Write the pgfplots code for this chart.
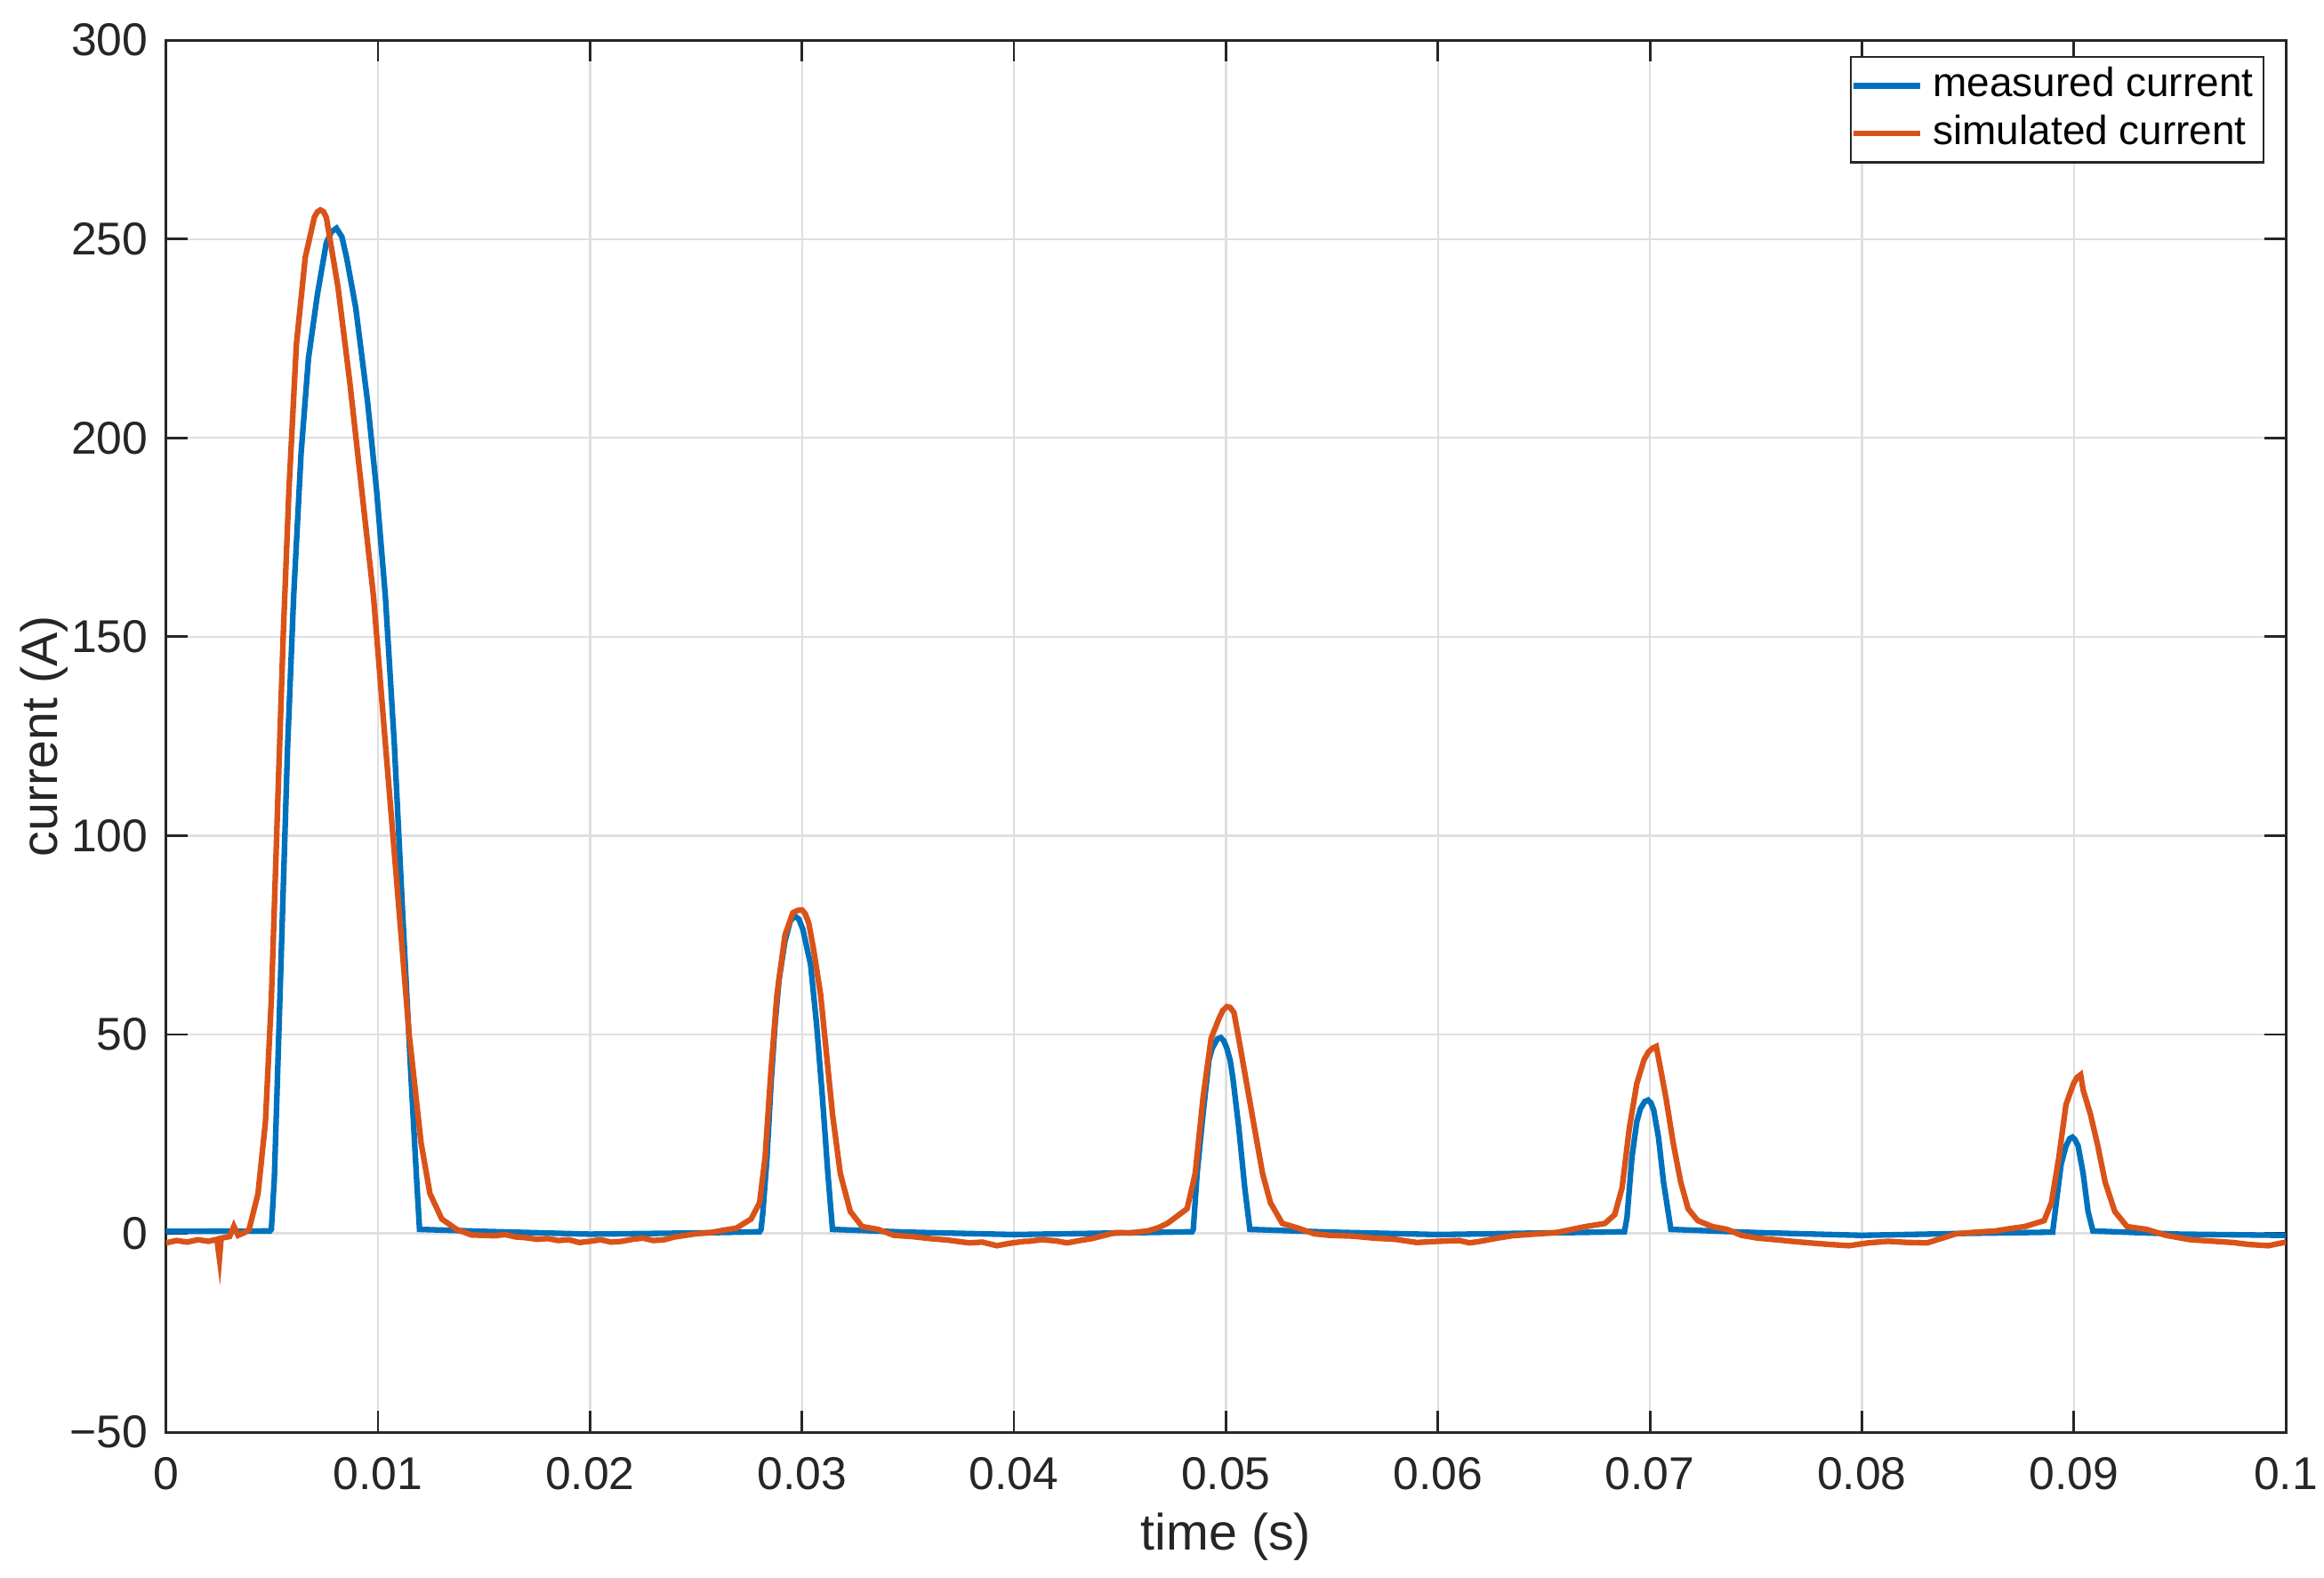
\documentclass[border=0pt]{standalone}
\usepackage{fontspec}
\setmainfont{Liberation Sans}
\usepackage{pgfplots}
\pgfplotsset{compat=1.18}
\definecolor{mblue}{HTML}{0072BD}
\definecolor{morange}{HTML}{D95319}
\definecolor{axgray}{HTML}{262626}
\definecolor{gridgray}{HTML}{DFDFDF}
\begin{document}
\begin{tikzpicture}
\useasboundingbox (-1.143cm,-0.998cm) rectangle (14.857cm,9.859cm);
\begin{axis}[
  scale only axis,
  width=14.594cm, height=9.583cm,
  xmin=0, xmax=0.1, ymin=-50, ymax=300,
  xtick={0,0.01,0.02,0.03,0.04,0.05,0.06,0.07,0.08,0.09,0.1},
  xticklabels={0,0.01,0.02,0.03,0.04,0.05,0.06,0.07,0.08,0.09,0.1},
  ytick={-50,0,50,100,150,200,250,300},
  yticklabels={−50,0,50,100,150,200,250,300},
  grid=major, major grid style={gridgray, line width=0.4pt},
  axis line style={axgray, line width=0.5pt},
  tick style={axgray, line width=0.5pt},
  tick align=inside, xtick pos=both, ytick pos=both,
  major tick length=0.146cm,
  tick label style={font=\fontsize{9}{10}\selectfont, text=axgray},
  xticklabel style={yshift=-0.05cm},
  xlabel={time (s)}, ylabel={current (A)},
  label style={font=\fontsize{10}{12}\selectfont, text=axgray},
  x label style={at={(axis description cs:0.5,-0.0751)}, anchor=center},
  y label style={at={(axis description cs:-0.0574,0.5)}, anchor=center},
  legend style={at={(1,1)}, anchor=north east, xshift=-0.147cm, yshift=-0.11cm,
    draw=axgray, line width=0.4pt, font=\fontsize{8}{9}\selectfont,
    inner xsep=0pt, inner ysep=0pt, row sep=-2pt},
  legend cell align=left,
  legend image code/.code={\draw[#1] (0cm,0cm) -- (0.46cm,0cm);},
]
% measured current
\addplot[mblue, line width=1.1pt] coordinates {
(0,0.5)(0.0049,0.6)(0.00497,1)(0.00511,13.7)(0.00532,50)(0.00553,86.7)(0.00574,123)
(0.00602,160)(0.00637,196)(0.00672,220)(0.00714,236)(0.00756,249)(0.0078,251.8)(0.00804,252.7)
(0.0083,250.5)(0.00853,245)(0.00895,232.7)(0.00951,209)(0.00993,187)(0.01035,160)(0.01077,123)
(0.01119,77.6)(0.01154,41)(0.01182,13.7)(0.01196,1)(0.015,0.5)(0.02,-0.2)(0.025,0.1)
(0.028,0.4)(0.02807,1)(0.02815,5)(0.02835,19)(0.02854,37.6)(0.02873,52.5)(0.02892,63.8)
(0.0292,73.5)(0.02945,78.5)(0.02966,79.8)(0.02985,79)(0.03004,76.5)(0.03041,67.5)(0.03069,52.5)
(0.03097,33.9)(0.03122,15.2)(0.03144,1)(0.035,0.3)(0.04,-0.3)(0.045,0.1)(0.0484,0.4)(0.04846,1)
(0.04864,15)(0.04892,30)(0.0492,43.6)(0.04935,46.5)(0.0496,48.9)(0.04976,49.2)(0.0499,48.4)
(0.05004,46.6)(0.0502,43.5)(0.05033,39)(0.05061,26.4)(0.05089,11.4)(0.05113,1)(0.055,0.3)
(0.06,-0.3)(0.065,0.1)(0.0688,0.4)(0.06892,4)(0.06915,19)(0.06938,28)(0.06955,31.3)
(0.06975,33.1)(0.06991,33.5)(0.07005,32.8)(0.07018,31)(0.07041,24)(0.07064,13)(0.07099,1)
(0.075,0.2)(0.08,-0.5)(0.085,0)(0.089,0.3)(0.08917,7.7)(0.0894,17.4)(0.08963,22)(0.0898,23.8)
(0.08993,24.2)(0.09005,23.6)(0.0902,22)(0.09044,15)(0.09067,5.5)(0.0909,0.6)(0.095,-0.2)(0.1,-0.5)
};
\addlegendentry{measured current}
% simulated current
\addplot[morange, line width=1.1pt] coordinates {
(0,-2.4)(0.0005,-1.8)(0.001,-2.2)(0.0015,-1.6)(0.002,-2.0)(0.0024,-1.5)(0.00252,-6.4)
(0.0026,-1.2)(0.003,-0.8)(0.0032,1.8)(0.0034,-0.5)(0.0037,0.2)(0.00392,1)(0.00434,10)
(0.00469,28)(0.00497,59)(0.00525,105)(0.00553,150.5)(0.0058,187)(0.00615,223.5)
(0.00657,245.4)(0.007,255.5)(0.00714,256.8)(0.00728,257.3)(0.00742,256.9)(0.00756,255.5)
(0.00811,238)(0.00867,214)(0.00923,187)(0.00979,160)(0.01035,123)(0.01091,86.7)(0.01147,50)
(0.01203,22.8)(0.01245,10)(0.01301,3.6)(0.01371,1)(0.01441,-0.4)(0.0155,-0.6)(0.016,-0.3)
(0.0165,-0.9)(0.017,-1.1)(0.0175,-1.5)(0.018,-1.3)(0.0185,-1.8)(0.019,-1.6)(0.0195,-2.3)
(0.02,-2.0)(0.0205,-1.6)(0.021,-2.2)(0.0215,-2.0)(0.022,-1.5)(0.0225,-1.2)(0.023,-1.8)
(0.0235,-1.6)(0.024,-0.9)(0.0245,-0.5)(0.025,-0.1)(0.0257,0.2)(0.0263,0.8)(0.0269,1.3)
(0.0276,3.6)(0.028,7.7)(0.02826,19)(0.02854,41)(0.02882,60)(0.0292,75)(0.02957,80.6)
(0.0298,81.2)(0.03,81.3)(0.03015,80.4)(0.03032,78)(0.03056,71)(0.03088,60)(0.03116,45)
(0.03144,30)(0.03181,15)(0.03228,5.5)(0.03284,1.7)(0.03359,1)(0.03434,-0.5)(0.0352,-0.8)
(0.03602,-1.3)(0.0369,-1.7)(0.03789,-2.4)(0.0385,-2.2)(0.0392,-3.1)(0.0398,-2.5)(0.0405,-2.0)
(0.0407,-2.0)(0.0413,-1.6)(0.042,-1.9)(0.0425,-2.4)(0.0431,-1.8)(0.04369,-1.3)(0.0442,-0.6)
(0.04481,0.2)(0.0455,0.1)(0.0463,0.6)(0.0468,1.4)(0.04724,2.5)(0.04817,6.2)(0.04855,15)
(0.04892,34)(0.0493,49)(0.04967,54)(0.04985,56)(0.05004,57)(0.0502,56.8)(0.05038,55.5)
(0.05061,48.8)(0.05098,37.6)(0.05135,26.4)(0.05173,15)(0.0521,7.7)(0.05266,2.5)(0.05341,1.3)
(0.05416,-0.1)(0.0549,-0.5)(0.056,-0.7)(0.057,-1.2)(0.058,-1.5)(0.059,-2.3)(0.06,-2.0)
(0.061,-1.8)(0.0615,-2.4)(0.062,-2.0)(0.0628,-1.2)(0.0635,-0.6)(0.0645,-0.2)(0.0656,0.2)
(0.06696,1.7)(0.06788,2.5)(0.06834,4.7)(0.06869,11.5)(0.06903,26.4)(0.06938,37.6)(0.06972,43.6)
(0.06993,45.6)(0.07014,46.6)(0.0703,47)(0.07048,42)(0.07076,34)(0.0711,22.7)(0.07145,13)
(0.0718,6.2)(0.07226,3.2)(0.07295,1.7)(0.07364,1)(0.07433,-0.5)(0.0751,-1.2)(0.07594,-1.6)
(0.0767,-2.0)(0.07755,-2.4)(0.0785,-2.8)(0.07939,-3.1)(0.0803,-2.4)(0.08123,-2.0)(0.0822,-2.3)
(0.08307,-2.4)(0.0838,-1.2)(0.08445,-0.1)(0.0854,0.3)(0.08629,0.6)(0.087,1.2)(0.08768,1.7)
(0.0886,3.2)(0.08894,7.7)(0.08929,19)(0.08963,32.4)(0.08998,37.6)(0.09015,39.2)(0.09032,39.9)
(0.09044,36)(0.09078,30)(0.09113,22)(0.09147,13)(0.09193,5.5)(0.09251,1.7)(0.09343,1)
(0.09435,-0.5)(0.0955,-1.6)(0.09665,-2.0)(0.0975,-2.3)(0.09826,-2.8)(0.09918,-3.1)(0.1,-2.2)
};
\addlegendentry{simulated current}
\end{axis}
\end{tikzpicture}
\end{document}
